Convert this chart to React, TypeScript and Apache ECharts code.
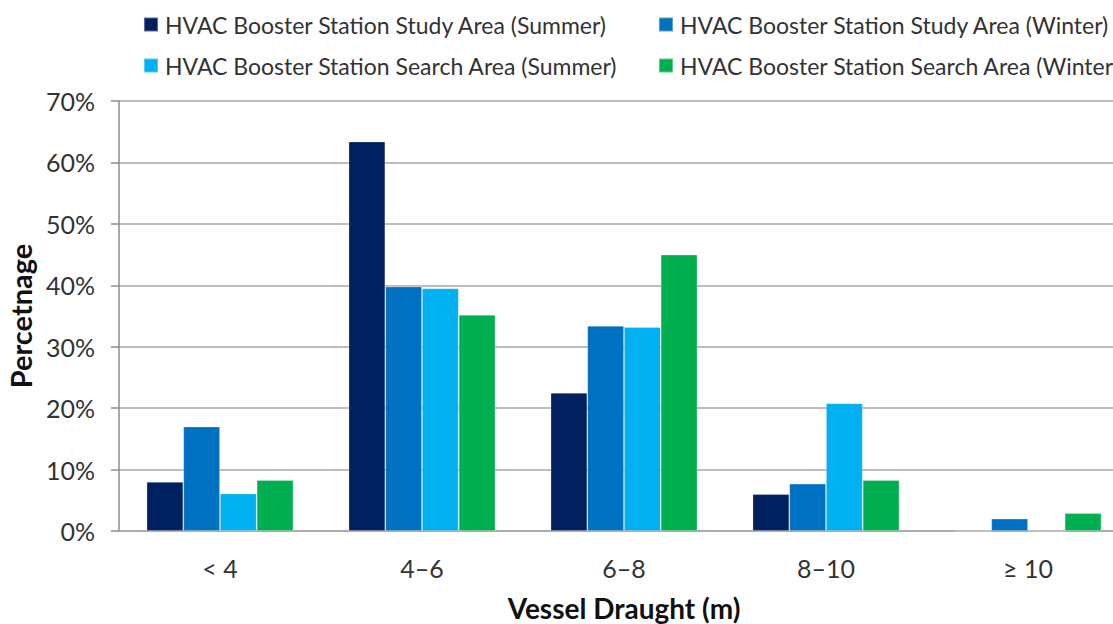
import React, { useEffect, useRef } from "react";
import * as echarts from "echarts";

const categories = ["< 4", "4–6", "6–8", "8–10", "≥ 10"];
const seriesNames = [
  "HVAC Booster Station Study Area (Summer)",
  "HVAC Booster Station Study Area (Winter)",
  "HVAC Booster Station Search Area (Summer)",
  "HVAC Booster Station Search Area (Winter)",
];
const studySummer = [8.0, 63.4, 22.5, 6.0, 0];
const studyWinter = [17.0, 39.8, 33.4, 7.7, 2.0];
const searchSummer = [6.1, 39.5, 33.2, 20.8, 0];
const searchWinter = [8.3, 35.2, 45.0, 8.3, 2.9];
const colors = ["#002060", "#0070c0", "#00b0f0", "#00b050"];
const yTicks = [0, 10, 20, 30, 40, 50, 60, 70];

const FONT = "Lato";

export default function App() {
  const ref = useRef<HTMLDivElement>(null);
  useEffect(() => {
    if (!ref.current) return;
    const chart = echarts.init(ref.current, null, { renderer: "svg" });
    const values = [studySummer, studyWinter, searchSummer, searchWinter];
    const legendPos = [
      { left: 143, top: 13 },
      { left: 658, top: 13 },
      { left: 143, top: 54 },
      { left: 658, top: 54 },
    ];
    chart.setOption({
      animation: false,
      textStyle: { fontFamily: FONT },
      color: colors,
      legend: seriesNames.map((n, i) => ({
        data: [n],
        left: legendPos[i].left,
        top: legendPos[i].top,
        icon: "rect",
        itemWidth: 14,
        itemHeight: 14,
        padding: 0,
        textStyle: {
          fontFamily: FONT,
          fontSize: 23,
          color: "#333333",
          padding: [0, 0, 0, 2],
        },
      })),
      grid: {
        left: 119,
        right: -16,
        top: 101,
        bottom: 93,
        containLabel: false,
        outerBoundsMode: "none",
      },
      xAxis: {
        type: "category",
        data: categories,
        axisLine: { show: true, lineStyle: { color: "#a6a6a6", width: 1.5 } },
        axisTick: { show: false },
        axisLabel: {
          margin: 24,
          fontSize: 25,
          color: "#333333",
          fontFamily: FONT,
        },
        name: "Vessel Draught (m)",
        nameLocation: "middle",
        nameGap: 63,
        nameTextStyle: {
          fontSize: 28,
          fontWeight: "bold",
          color: "#111111",
          fontFamily: FONT,
        },
      },
      yAxis: {
        type: "value",
        min: yTicks[0],
        max: yTicks[yTicks.length - 1],
        interval: 10,
        axisLine: { show: true, lineStyle: { color: "#8c8c8c", width: 1.5 } },
        axisTick: {
          show: true,
          inside: false,
          length: 8,
          lineStyle: { color: "#8c8c8c", width: 1.5 },
        },
        splitLine: { lineStyle: { color: "#a6a6a6", width: 1.5 } },
        axisLabel: {
          formatter: "{value}%",
          margin: 24,
          fontSize: 25,
          color: "#333333",
          fontFamily: FONT,
        },
        name: "Percetnage",
        nameLocation: "middle",
        nameRotate: 90,
        nameGap: 84,
        nameTextStyle: {
          fontSize: 29,
          fontWeight: "bold",
          color: "#111111",
          fontFamily: FONT,
        },
      },
      series: seriesNames.map((n, i) => ({
        name: n,
        type: "bar",
        data: values[i],
        barGap: "0%",
        barCategoryGap: "27.3%",
        itemStyle: {
          color: colors[i],
          borderColor: "rgba(255,255,255,0.35)",
          borderWidth: 0.8,
        },
      })),
    });
    return () => chart.dispose();
  }, []);
  return (
    <div
      ref={ref}
      style={{ position: "absolute", left: 0, top: 0, width: 1113, height: 624, background: "#fff" }}
    />
  );
}
